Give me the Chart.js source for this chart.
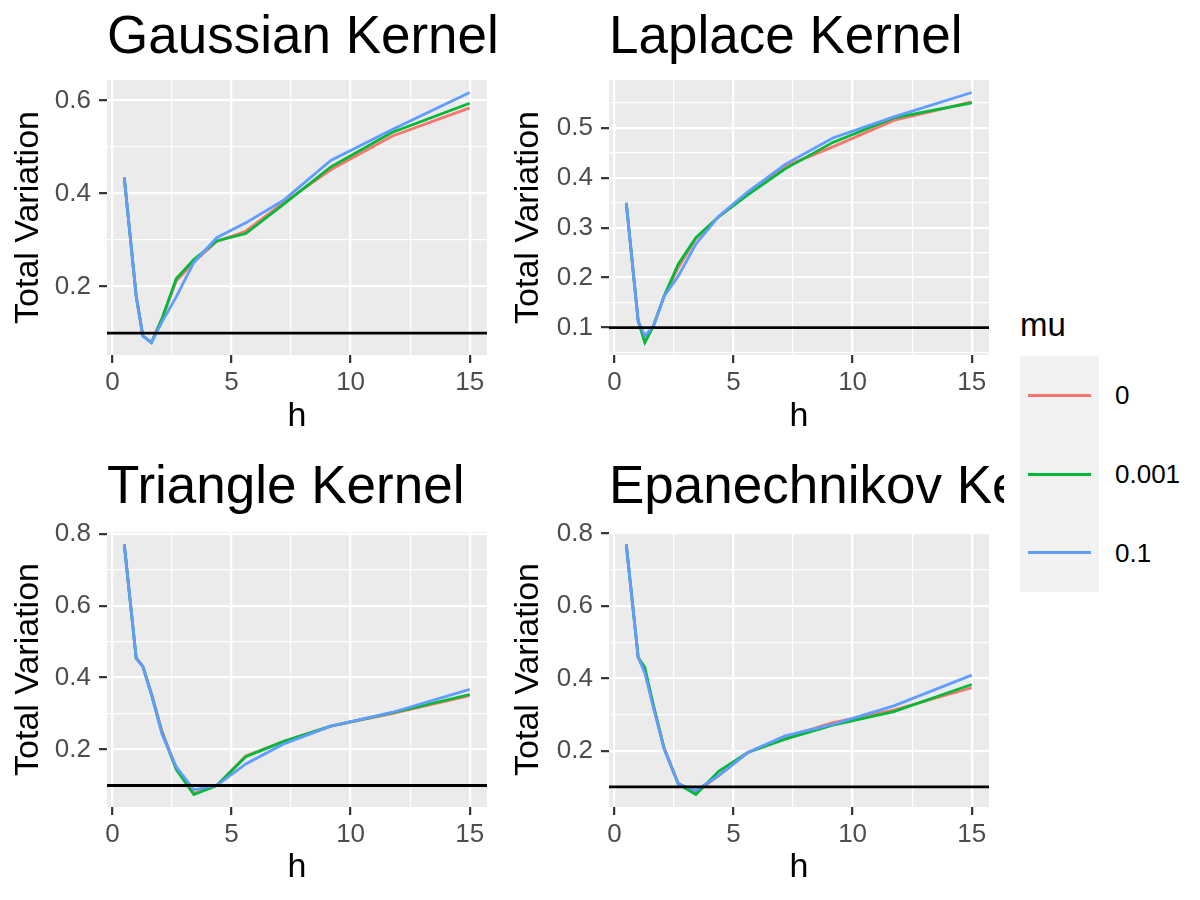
<!DOCTYPE html>
<html>
<head>
<meta charset="utf-8">
<script src="https://cdn.jsdelivr.net/npm/chart.js@4.4.1/dist/chart.umd.min.js"></script>
<style>
  html, body { margin: 0; padding: 0; background: #fff; }
  #wrap { position: relative; width: 1200px; height: 900px; overflow: hidden;
          font-family: "Liberation Sans", Arial, sans-serif; }
  canvas { position: absolute; }
  #legend-title { position: absolute; left: 1020px; top: 306px; font-size: 33px; color: #000; line-height: 38px; }
  #legend-box { position: absolute; left: 1020px; top: 356px; width: 79px; height: 236px; background: #f2f2f2; }
  .key-line { position: absolute; left: 8px; width: 63px; height: 3px; }
  .key-label { position: absolute; left: 95px; font-size: 26px; line-height: 30px; color: #000; white-space: nowrap; }
</style>
</head>
<body>
<div id="wrap">
  <canvas id="gauss" width="500" height="450" style="left:0;top:0"></canvas>
  <canvas id="laplace" width="504" height="450" style="left:500px;top:0"></canvas>
  <canvas id="triangle" width="500" height="450" style="left:0;top:450px"></canvas>
  <canvas id="epan" width="504" height="450" style="left:500px;top:450px"></canvas>
  <div id="legend-title">mu</div>
  <div id="legend-box"></div>
</div>
<script>
// bandwidths h (x axis), same for every kernel
const hValues = [0.5, 1, 1.28, 1.64, 2.09, 2.68, 3.42, 4.38, 5.6, 7.17, 9.17, 11.73, 15];
const muLevels = ['0', '0.001', '0.1'];
const muColors = ['#F8766D', '#00BA38', '#619CFF'];
const threshold = 0.1;

// total variation, one array per kernel and mu
const gaussMu0    = [0.434, 0.18, 0.094, 0.08, 0.132, 0.212, 0.253, 0.297, 0.319, 0.38, 0.451, 0.523, 0.584];
const gaussMu001  = [0.434, 0.18, 0.094, 0.08, 0.132, 0.217, 0.258, 0.298, 0.314, 0.376, 0.457, 0.531, 0.594];
const gaussMu01   = [0.434, 0.18, 0.094, 0.08, 0.125, 0.178, 0.252, 0.305, 0.337, 0.385, 0.471, 0.537, 0.617];

const laplaceMu0   = [0.35, 0.113, 0.072, 0.103, 0.163, 0.22, 0.278, 0.322, 0.368, 0.423, 0.462, 0.515, 0.552];
const laplaceMu001 = [0.35, 0.113, 0.07, 0.103, 0.163, 0.227, 0.28, 0.322, 0.366, 0.418, 0.471, 0.52, 0.55];
const laplaceMu01  = [0.35, 0.113, 0.083, 0.103, 0.163, 0.203, 0.267, 0.323, 0.372, 0.427, 0.48, 0.522, 0.571];

const triMu0   = [0.77, 0.454, 0.431, 0.356, 0.25, 0.148, 0.078, 0.1, 0.182, 0.222, 0.265, 0.3, 0.35];
const triMu001 = [0.77, 0.454, 0.431, 0.353, 0.245, 0.145, 0.075, 0.1, 0.18, 0.222, 0.265, 0.302, 0.353];
const triMu01  = [0.77, 0.454, 0.431, 0.353, 0.242, 0.152, 0.088, 0.1, 0.16, 0.215, 0.265, 0.303, 0.367];

const epanMu0   = [0.77, 0.458, 0.42, 0.325, 0.208, 0.11, 0.085, 0.131, 0.195, 0.237, 0.278, 0.312, 0.374];
const epanMu001 = [0.77, 0.458, 0.43, 0.325, 0.205, 0.108, 0.079, 0.143, 0.195, 0.232, 0.271, 0.308, 0.383];
const epanMu01  = [0.77, 0.458, 0.415, 0.318, 0.205, 0.108, 0.09, 0.131, 0.195, 0.241, 0.273, 0.324, 0.409];

Chart.defaults.font.family = '"Liberation Sans", Arial, sans-serif';

const isMajor = (v, step) => Math.abs(v / step - Math.round(v / step)) < 1e-6;
const fmt = v => String(Math.round(v * 1000) / 1000);

// grey panel background
const panelBg = {
  id: 'panelBg',
  beforeDraw(chart) {
    const {ctx, chartArea: a} = chart;
    ctx.save();
    ctx.fillStyle = '#ebebeb';
    ctx.fillRect(a.left, a.top, a.right - a.left, a.bottom - a.top);
    ctx.restore();
  }
};

// black reference line at the threshold
const hline = {
  id: 'hline',
  afterDatasetsDraw(chart) {
    const {ctx, chartArea: a, scales} = chart;
    const y = scales.y.getPixelForValue(threshold);
    ctx.save();
    ctx.strokeStyle = '#000';
    ctx.lineWidth = 2.8;
    ctx.beginPath();
    ctx.moveTo(a.left, y);
    ctx.lineTo(a.right, y);
    ctx.stroke();
    ctx.restore();
  }
};

// left aligned title over the panel, not squeezed to the panel width
const panelTitle = {
  id: 'panelTitle',
  afterDraw(chart, args, opts) {
    const {ctx, chartArea: a} = chart;
    ctx.save();
    ctx.font = '53px "Liberation Sans", Arial, sans-serif';
    ctx.fillStyle = '#000';
    ctx.textAlign = 'left';
    ctx.textBaseline = 'alphabetic';
    ctx.fillText(opts.text, a.left, a.top - opts.gap);
    ctx.restore();
  }
};

function makePanel(id, title, series, yMajor, lay) {
  const all = series.flat().concat([threshold]);
  const yLo = Math.min(...all), yHi = Math.max(...all);
  const yPad = (yHi - yLo) * 0.05;
  const xLo = hValues[0], xHi = hValues[hValues.length - 1];
  const xPad = (xHi - xLo) * 0.05;

  const gridOf = step => ({
    color: '#ffffff',
    lineWidth: c => isMajor(c.tick.value, step) ? 2.3 : 1.2,
    tickLength: 8,
    tickWidth: 2.2,
    tickColor: c => isMajor(c.tick.value, step) ? '#333333' : 'rgba(0,0,0,0)'
  });

  new Chart(document.getElementById(id), {
    type: 'line',
    data: {
      datasets: series.map((vals, i) => ({
        label: muLevels[i],
        data: hValues.map((h, k) => ({x: h, y: vals[k]})),
        borderColor: muColors[i],
        borderWidth: 2.8,
        pointRadius: 0,
        tension: 0,
        fill: false,
        order: series.length - i
      }))
    },
    options: {
      responsive: false,
      animation: false,
      events: [],
      layout: {padding: {top: lay.top, right: lay.right, left: 0, bottom: 0}},
      plugins: {
        legend: {display: false},
        tooltip: {enabled: false},
        panelTitle: {text: title, gap: lay.gap}
      },
      scales: {
        x: {
          type: 'linear',
          min: xLo - xPad,
          max: xHi + xPad,
          afterFit: s => { s.height = lay.xh; },
          border: {display: false},
          grid: gridOf(5),
          ticks: {
            stepSize: 2.5, includeBounds: false, autoSkip: false, maxRotation: 0,
            padding: 4, color: '#4d4d4d', font: {size: 26},
            callback: v => isMajor(v, 5) ? fmt(v) : ''
          },
          title: {display: true, text: 'h', color: '#000', font: {size: 34}, padding: {top: 0, bottom: lay.hpad}}
        },
        y: {
          type: 'linear',
          min: yLo - yPad,
          max: yHi + yPad,
          afterFit: s => { s.width = lay.yw; },
          border: {display: false},
          grid: gridOf(yMajor),
          ticks: {
            stepSize: yMajor / 2, includeBounds: false, autoSkip: false,
            padding: 8, color: '#4d4d4d', font: {size: 26},
            callback: v => isMajor(v, yMajor) ? fmt(v) : ''
          },
          title: {display: true, text: 'Total Variation', color: '#000', font: {size: 34}, padding: {top: 8, bottom: 0}}
        }
      }
    },
    plugins: [panelBg, hline, panelTitle]
  });
}

makePanel('gauss', 'Gaussian Kernel', [gaussMu0, gaussMu001, gaussMu01], 0.2,
  {top: 80, right: 13, yw: 107, xh: 95, gap: 27, hpad: 13});
makePanel('laplace', 'Laplace Kernel', [laplaceMu0, laplaceMu001, laplaceMu01], 0.1,
  {top: 80, right: 15, yw: 109, xh: 95, gap: 27, hpad: 13});
makePanel('triangle', 'Triangle Kernel', [triMu0, triMu001, triMu01], 0.2,
  {top: 82, right: 13, yw: 107, xh: 93, gap: 29, hpad: 12});
makePanel('epan', 'Epanechnikov Kernel', [epanMu0, epanMu001, epanMu01], 0.2,
  {top: 82, right: 15, yw: 109, xh: 93, gap: 29, hpad: 12});

// legend keys
const box = document.getElementById('legend-box');
const keyH = 236 / muLevels.length;
muLevels.forEach((lab, i) => {
  const line = document.createElement('div');
  line.className = 'key-line';
  line.style.top = (keyH * i + keyH / 2 - 1.5) + 'px';
  line.style.background = muColors[i];
  box.appendChild(line);
  const txt = document.createElement('div');
  txt.className = 'key-label';
  txt.style.top = (keyH * i + keyH / 2 - 15) + 'px';
  txt.textContent = lab;
  box.appendChild(txt);
});
</script>
</body>
</html>
